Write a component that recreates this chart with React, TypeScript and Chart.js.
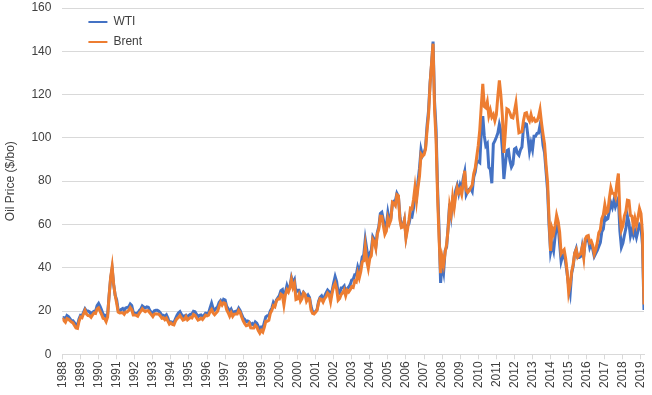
import React, { useEffect, useRef } from 'react';
import { Chart, registerables } from 'chart.js';

Chart.register(...registerables);

// Monthly values, January 1988 to March 2020 (US$/bbl)
const startYear = 1988;

const tickLabels = [
  '1988', '1989', '1990', '1991', '1992', '1993', '1994', '1995', '1996', '1997', '1998',
  '1999', '2000', '2000', '2001', '2002', '2003', '2004', '2005', '2006', '2007', '2008',
  '2009', '2010', '2011', '2012', '2013', '2014', '2015', '2016', '2017', '2018', '2019',
];

const yTicks = [0, 20, 40, 60, 80, 100, 120, 140, 160];

const wti = [
  17.0, 16.9, 16.2, 17.9, 17.4, 16.5, 15.5, 15.5, 14.5, 13.8, 13.4, 16.3, // 1988
  18.0, 17.8, 19.4, 21.0, 20.0, 20.0, 19.6, 18.4, 19.4, 19.9, 19.8, 22.5, // 1989
  23.5, 22.1, 20.4, 18.4, 18.2, 16.9, 18.6, 27.2, 35.0, 39.5, 32.3, 27.3, // 1990
  25.2, 20.5, 19.9, 20.8, 21.2, 20.2, 21.4, 21.7, 21.9, 23.2, 22.5, 19.5, // 1991
  18.8, 19.0, 18.9, 20.2, 20.9, 22.4, 21.8, 21.4, 21.9, 21.7, 20.3, 19.4, // 1992
  19.1, 20.1, 20.3, 20.3, 19.9, 19.1, 17.9, 18.0, 17.5, 18.2, 16.7, 14.5, // 1993
  15.0, 14.8, 14.7, 16.4, 17.9, 19.1, 19.7, 18.4, 17.5, 17.7, 18.1, 17.2, // 1994
  18.0, 18.5, 18.6, 19.9, 19.7, 18.5, 17.3, 18.0, 18.2, 17.4, 18.0, 19.0, // 1995
  18.9, 19.1, 21.4, 23.6, 21.2, 20.5, 21.3, 22.0, 24.0, 24.9, 23.7, 25.4, // 1996
  25.1, 22.2, 21.0, 19.7, 20.8, 19.2, 19.6, 19.9, 19.8, 21.3, 20.2, 18.3, // 1997
  16.7, 16.1, 15.0, 15.4, 14.9, 13.7, 14.2, 13.5, 15.0, 14.4, 12.9, 11.3, // 1998
  12.5, 12.0, 14.7, 17.3, 17.8, 17.9, 20.1, 21.3, 23.9, 22.6, 25.0, 26.1, // 1999
  27.2, 29.4, 29.9, 25.7, 28.8, 31.8, 29.7, 31.3, 35.5, 33.1, 34.5, 28.5, // 2000
  29.6, 29.6, 27.2, 27.4, 28.6, 27.6, 26.4, 27.4, 26.2, 22.2, 19.7, 19.3, // 2001
  19.7, 20.7, 24.4, 26.3, 27.0, 25.5, 26.9, 28.4, 29.7, 28.9, 26.3, 29.4, // 2002
  32.9, 35.9, 33.6, 28.3, 28.1, 30.7, 30.8, 31.6, 28.3, 30.3, 31.1, 32.2, // 2003
  34.3, 34.7, 36.7, 36.7, 40.3, 38.0, 40.7, 44.9, 45.9, 53.1, 48.5, 43.3, // 2004
  46.8, 48.0, 54.3, 53.0, 49.8, 56.3, 59.0, 65.0, 65.6, 62.3, 58.3, 59.4, // 2005
  65.5, 61.6, 62.9, 69.4, 70.8, 70.9, 74.4, 73.0, 63.8, 58.9, 59.1, 62.0, // 2006
  54.5, 59.3, 60.4, 63.9, 63.5, 67.5, 74.1, 72.4, 79.9, 86.0, 94.6, 91.7, // 2007
  93.0, 95.4, 105.5, 112.6, 125.4, 134.0, 144.5, 116.7, 104.1, 76.6, 57.3, 33.0, // 2008
  41.7, 38.0, 47.9, 49.6, 59.0, 69.6, 64.1, 71.0, 69.4, 75.7, 78.0, 74.5, // 2009
  78.3, 76.4, 81.2, 84.3, 73.7, 75.3, 76.3, 76.6, 75.2, 81.9, 84.3, 89.2, // 2010
  89.2, 88.6, 102.9, 110.0, 100.9, 96.3, 97.3, 86.3, 85.5, 79.0, 97.2, 98.6, // 2011
  100.3, 102.2, 106.2, 103.3, 94.7, 81.0, 87.9, 94.1, 94.5, 89.5, 86.5, 87.9, // 2012
  94.8, 95.3, 92.9, 92.0, 94.5, 95.8, 104.6, 106.6, 106.3, 100.5, 93.9, 97.6, // 2013
  94.6, 100.8, 100.8, 102.1, 102.2, 105.8, 103.6, 96.5, 93.2, 84.4, 75.8, 59.3, // 2014
  47.2, 50.6, 47.8, 54.5, 59.3, 59.8, 51.0, 42.9, 45.5, 46.2, 42.4, 37.2, // 2015
  31.7, 28.0, 37.5, 40.8, 46.7, 48.8, 44.7, 44.7, 45.2, 49.8, 45.7, 52.0, // 2016
  52.5, 53.5, 49.3, 51.1, 48.5, 45.2, 46.6, 48.0, 49.8, 51.6, 56.6, 57.9, // 2017
  63.7, 62.2, 62.7, 66.3, 70.0, 67.9, 71.0, 68.1, 70.2, 72.0, 57.0, 49.5, // 2018
  51.4, 55.0, 58.2, 63.9, 60.8, 54.7, 57.4, 54.8, 57.0, 54.0, 57.0, 59.9, // 2019
  59.0, 50.5, 20.5, // 2020
];

const brent = [
  16.8, 15.6, 14.8, 16.5, 16.2, 15.5, 14.9, 14.5, 13.3, 12.2, 12.0, 15.2, // 1988
  17.2, 16.9, 18.7, 20.3, 18.6, 17.9, 17.8, 17.1, 18.2, 19.1, 18.9, 21.0, // 1989
  21.5, 19.8, 18.4, 16.6, 16.4, 15.1, 17.2, 27.2, 35.5, 40.5, 32.3, 27.3, // 1990
  23.6, 19.5, 19.1, 19.2, 19.2, 18.5, 19.6, 19.6, 20.3, 21.6, 20.6, 18.2, // 1991
  18.2, 18.0, 17.6, 18.9, 19.9, 21.0, 20.2, 19.7, 20.1, 20.1, 19.2, 18.3, // 1992
  17.4, 18.6, 18.7, 18.6, 18.5, 17.7, 16.7, 16.9, 16.0, 16.7, 15.3, 13.9, // 1993
  14.5, 13.8, 13.6, 15.3, 16.4, 17.0, 18.0, 16.9, 15.8, 16.1, 17.4, 15.9, // 1994
  16.5, 17.0, 16.8, 18.4, 18.0, 16.9, 15.8, 16.1, 16.7, 16.1, 17.0, 18.1, // 1995
  17.8, 18.1, 19.7, 20.7, 19.1, 18.3, 19.1, 19.9, 22.1, 23.9, 22.7, 23.8, // 1996
  23.5, 20.6, 19.2, 17.6, 19.2, 17.5, 18.5, 18.6, 18.6, 20.3, 19.3, 17.2, // 1997
  15.4, 14.1, 13.2, 13.4, 14.4, 12.2, 12.1, 12.1, 13.4, 12.7, 11.0, 9.8, // 1998
  11.1, 10.3, 12.5, 15.3, 15.3, 15.7, 19.0, 20.3, 22.5, 22.0, 24.6, 25.5, // 1999
  25.5, 27.8, 27.3, 22.8, 27.6, 29.8, 28.7, 30.7, 34.5, 30.9, 32.6, 25.3, // 2000
  25.6, 27.5, 24.5, 25.7, 28.4, 27.7, 24.5, 25.8, 25.6, 20.5, 18.9, 18.6, // 2001
  19.4, 20.3, 23.7, 25.7, 25.4, 24.1, 25.7, 26.6, 28.3, 27.5, 24.2, 28.2, // 2002
  31.2, 32.8, 30.3, 25.0, 25.8, 27.6, 28.4, 29.8, 27.1, 29.6, 28.8, 29.8, // 2003
  31.2, 30.9, 33.8, 33.4, 37.6, 35.2, 38.2, 42.7, 43.2, 49.8, 43.1, 39.7, // 2004
  44.3, 45.5, 53.1, 51.9, 49.0, 55.6, 57.9, 63.8, 63.7, 59.4, 55.4, 56.9, // 2005
  62.8, 60.2, 62.1, 70.3, 69.8, 68.7, 73.7, 73.2, 62.0, 58.5, 58.8, 62.0, // 2006
  53.7, 57.6, 62.1, 67.5, 67.2, 71.3, 77.2, 70.8, 77.1, 82.3, 92.5, 91.5, // 2007
  92.2, 94.8, 103.3, 110.4, 124.6, 134.5, 143.5, 113.0, 99.0, 72.8, 53.2, 37.5, // 2008
  44.9, 41.5, 47.0, 50.8, 57.9, 68.6, 64.9, 72.5, 67.7, 73.2, 77.0, 74.7, // 2009
  76.2, 73.8, 78.8, 84.8, 75.9, 74.8, 75.6, 77.1, 78.2, 83.5, 86.1, 91.4, // 2010
  96.5, 103.7, 114.6, 125.0, 114.5, 113.9, 116.7, 110.2, 112.8, 109.6, 110.8, 107.9, // 2011
  110.7, 119.3, 126.5, 119.8, 110.3, 93.0, 102.6, 113.4, 113.0, 111.5, 109.5, 109.2, // 2012
  112.3, 116.1, 108.5, 102.3, 102.6, 102.9, 107.9, 111.3, 111.6, 109.1, 107.8, 110.8, // 2013
  108.1, 108.9, 107.5, 107.8, 109.7, 113.0, 106.8, 101.6, 97.1, 87.4, 79.4, 62.3, // 2014
  47.8, 58.1, 55.9, 59.5, 64.3, 61.5, 56.6, 46.5, 47.6, 48.4, 44.3, 38.0, // 2015
  28.5, 32.2, 38.2, 41.6, 46.7, 48.3, 44.9, 45.8, 46.6, 49.5, 44.7, 53.3, // 2016
  54.6, 54.9, 51.6, 52.3, 50.3, 46.4, 48.5, 51.7, 56.2, 57.5, 62.7, 64.4, // 2017
  69.1, 65.3, 66.0, 72.1, 76.9, 74.4, 74.3, 72.5, 78.9, 83.5, 64.8, 57.4, // 2018
  59.4, 64.0, 66.1, 71.2, 71.0, 64.2, 63.9, 59.0, 62.8, 59.7, 63.2, 67.3, // 2019
  65.0, 55.7, 23.0, // 2020
];

const FONT = "'Liberation Sans', Arial, sans-serif";

const legendOffset = {
  id: 'legendOffset',
  afterLayout(chart: any) {
    if (chart.legend) {
      chart.legend.left = chart.chartArea.left + 18;
      chart.legend.top = chart.chartArea.top;
    }
  },
};

export default function App() {
  const ref = useRef<HTMLCanvasElement>(null);

  useEffect(() => {
    document.body.style.margin = '0';
    const toPoints = (arr: number[]) => arr.map((v, i) => ({ x: startYear + i / 12, y: v }));
    const xMax = startYear + (wti.length - 1) / 12;

    const chart = new Chart(ref.current as HTMLCanvasElement, {
      type: 'line',
      data: {
        datasets: [
          {
            label: 'WTI',
            data: toPoints(wti),
            borderColor: '#4472C4',
            backgroundColor: '#4472C4',
            borderWidth: 3,
            pointRadius: 0,
            tension: 0,
            order: 1,
          },
          {
            label: 'Brent',
            data: toPoints(brent),
            borderColor: '#ED7D31',
            backgroundColor: '#ED7D31',
            borderWidth: 3,
            pointRadius: 0,
            tension: 0,
            order: 0,
          },
        ],
      },
      options: {
        animation: false,
        responsive: false,
        layout: { padding: { left: 0, right: 0, top: 0, bottom: 5 } },
        plugins: {
          legend: {
            position: 'chartArea',
            align: 'start',
            fullSize: false,
            labels: {
              boxWidth: 19,
              boxHeight: 2,
              padding: 8,
              color: '#404040',
              font: { family: FONT, size: 12 },
              generateLabels: (ch: any) =>
                ch.data.datasets.map((ds: any, i: number) => ({
                  text: ds.label,
                  fillStyle: ds.borderColor,
                  strokeStyle: ds.borderColor,
                  lineWidth: 0,
                  hidden: false,
                  datasetIndex: i,
                  fontColor: '#404040',
                })),
            },
          },
          tooltip: { enabled: false },
        },
        scales: {
          x: {
            type: 'linear',
            min: startYear,
            max: xMax,
            afterBuildTicks: (axis: any) => {
              axis.ticks = tickLabels.map((_, i) => ({ value: startYear + i }));
            },
            afterFit: (axis: any) => {
              axis.paddingLeft = 0;
              axis.paddingRight = 8;
            },
            ticks: {
              autoSkip: false,
              minRotation: 90,
              maxRotation: 90,
              padding: 2,
              color: '#404040',
              font: { family: FONT, size: 12 },
              callback: (_v: any, i: number) => tickLabels[i],
            },
            grid: { drawOnChartArea: false, drawTicks: true, tickLength: 5, color: '#d9d9d9' },
            border: { display: true, color: '#d9d9d9' },
          },
          y: {
            min: 0,
            max: 160,
            afterBuildTicks: (axis: any) => {
              axis.ticks = yTicks.map((v) => ({ value: v }));
            },
            afterFit: (axis: any) => {
              axis.paddingTop = 8;
              axis.paddingBottom = 0;
            },
            ticks: {
              padding: 11,
              color: '#404040',
              font: { family: FONT, size: 12 },
            },
            grid: { drawTicks: false, color: '#d9d9d9' },
            border: { display: false },
            title: {
              display: true,
              text: 'Oil Price ($/bo)',
              color: '#404040',
              font: { family: FONT, size: 12 },
              padding: { top: 3, bottom: 3 },
            },
          },
        },
      },
      plugins: [legendOffset],
    } as any);

    return () => chart.destroy();
  }, []);

  return (
    <div style={{ width: 652, height: 395 }}>
      <canvas ref={ref} width={652} height={395} style={{ display: 'block' }} />
    </div>
  );
}
